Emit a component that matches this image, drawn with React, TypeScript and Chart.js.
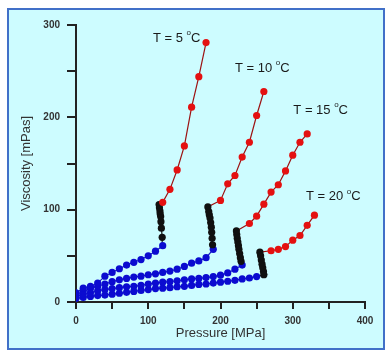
import React, { useEffect, useRef } from 'react';
import { Chart, registerables } from 'chart.js';

Chart.register(...registerables);

// Pressure [MPa], viscosity [mPas] pairs
// liquid (blue), transition (black), high-pressure phase (red)
const t5Liquid: number[][] = [[0, 10], [10, 15], [20, 17], [30, 20.5], [40, 28], [50, 32], [60, 36], [70, 40], [80, 43], [90, 46], [100, 50], [110, 55], [120, 61]];
const t5Transition: number[][] = [[119.3, 70], [118.2, 80], [117.6, 87], [117.2, 92.5], [116.5, 95.5], [116.2, 98.5], [115.5, 102], [115, 105.5]];
const t5Solid: number[][] = [[120, 108], [130, 122], [140, 143], [150, 169], [160, 211], [170, 244], [180, 281]];

const t10Liquid: number[][] = [[0, 8], [10, 11.5], [20, 14.5], [30, 17], [40, 19.5], [50, 22], [60, 24], [70, 25.5], [80, 27], [90, 28], [100, 29.5], [110, 30.5], [120, 32], [130, 33.5], [140, 35.5], [150, 38.5], [160, 42], [170, 44.5], [180, 48], [190, 57]];
const t10Transition: number[][] = [[189, 62], [188.4, 69], [187.8, 75.5], [187.3, 81], [186.4, 86], [185.5, 91], [184.5, 94.5], [183.7, 98], [182.5, 103]];
const t10Solid: number[][] = [[200, 110], [210, 128], [220, 137], [230, 157], [240, 173], [250, 202], [260, 228]];

const t15Liquid: number[][] = [[0, 6], [10, 8], [20, 10], [30, 12], [40, 13.5], [50, 14.5], [60, 15.5], [70, 16.5], [80, 17], [90, 18], [100, 19.5], [110, 20.5], [120, 21.5], [130, 22], [140, 23], [150, 24], [160, 25], [170, 25.5], [180, 26.5], [190, 27.5], [200, 29], [210, 31.5], [220, 35.5], [230, 40]];
const t15Transition: number[][] = [[228.5, 44], [227.5, 48], [226.5, 52.5], [225.5, 57], [224.8, 61], [224, 65], [223.2, 69], [222.5, 73], [222, 77]];
const t15Solid: number[][] = [[240, 85], [250, 93], [260, 106], [270, 119], [280, 127], [290, 142], [300, 159], [310, 173], [320, 182]];

const t20Liquid: number[][] = [[0, 4], [10, 5], [20, 6], [30, 7], [40, 7.5], [50, 8.5], [60, 9.5], [70, 10.5], [80, 11.5], [90, 12.5], [100, 13.5], [110, 14.5], [120, 15], [130, 15.5], [140, 16.5], [150, 17], [160, 18], [170, 19], [180, 19.5], [190, 20.5], [200, 21.5], [210, 22.5], [220, 23.5], [230, 25], [240, 26], [250, 27.5]];
const t20Transition: number[][] = [[260, 29.5], [259.5, 33], [258.5, 37], [257.5, 41], [256.5, 45.5], [255.5, 50], [254.5, 54]];
const t20Solid: number[][] = [[270, 55.5], [280, 57], [290, 60], [300, 67], [310, 72], [320, 83], [330, 94]];

const temperatures = [5, 10, 15, 20];
const seriesPhases = [
  [t5Liquid, t5Transition, t5Solid],
  [t10Liquid, t10Transition, t10Solid],
  [t15Liquid, t15Transition, t15Solid],
  [t20Liquid, t20Transition, t20Solid],
];
// label anchor (left edge, vertical middle) in data units
const labelAnchors = [[106.6, 286], [220, 253.5], [300.8, 208], [318.3, 114.4]];

const xTickValues = [0, 100, 200, 300, 400];
const yTickValues = [0, 100, 200, 300];

const pointColors = ['#0b0bd0', '#101010', '#e41010'];
const lineColors = ['#1c1cc0', '#1a1a1a', '#9c1212'];

const FONT = '"Liberation Sans", Arial, sans-serif';

const backgroundPlugin = {
  id: 'panelBg',
  beforeDraw(chart: any) {
    const { ctx, width, height } = chart;
    ctx.save();
    ctx.fillStyle = '#ffffff';
    ctx.fillRect(0, 0, width, height);
    ctx.fillStyle = '#cdfcff';
    ctx.fillRect(8, 9, 376, 340);
    ctx.strokeStyle = '#4170c8';
    ctx.lineWidth = 2;
    ctx.strokeRect(8, 9, 376, 340);
    ctx.restore();
  },
};

const labelPlugin = {
  id: 'tempLabels',
  afterDatasetsDraw(chart: any) {
    const { ctx, scales } = chart;
    ctx.save();
    ctx.fillStyle = '#1a1a1a';
    ctx.textBaseline = 'middle';
    ctx.textAlign = 'left';
    temperatures.forEach((t, i) => {
      const px = scales.x.getPixelForValue(labelAnchors[i][0]);
      const py = scales.y.getPixelForValue(labelAnchors[i][1]);
      ctx.font = `13px ${FONT}`;
      const main = `T = ${t} `;
      ctx.fillText(main, px, py);
      const w = ctx.measureText(main).width;
      ctx.font = `8px ${FONT}`;
      ctx.fillText('o', px + w, py - 5);
      const ow = ctx.measureText('o').width;
      ctx.font = `13px ${FONT}`;
      ctx.fillText('C', px + w + ow, py);
    });
    ctx.restore();
  },
};

export default function App() {
  const canvasRef = useRef<HTMLCanvasElement | null>(null);

  useEffect(() => {
    if (!canvasRef.current) return;
    const datasets = seriesPhases.map((phases, i) => {
      const data: { x: number; y: number }[] = [];
      const phaseIdx: number[] = [];
      phases.forEach((pts, p) => {
        pts.forEach(([x, y]) => {
          data.push({ x, y });
          phaseIdx.push(p);
        });
      });
      return {
        label: `T = ${temperatures[i]} °C`,
        data,
        showLine: true,
        borderWidth: 1.2,
        pointRadius: 3.6,
        pointBorderWidth: 0,
        pointBackgroundColor: phaseIdx.map((p) => pointColors[p]),
        pointBorderColor: phaseIdx.map((p) => pointColors[p]),
        segment: {
          borderColor: (c: any) => lineColors[phaseIdx[c.p1DataIndex]],
        },
        borderColor: lineColors[0],
        tension: 0,
      };
    });

    const chart = new Chart(canvasRef.current, {
      type: 'scatter',
      data: { datasets },
      options: {
        animation: false,
        responsive: false,
        devicePixelRatio: 1,
        layout: { padding: { left: 0, right: 20, top: 25, bottom: 0 } },
        plugins: { legend: { display: false }, tooltip: { enabled: false } },
        scales: {
          x: {
            type: 'linear',
            min: 0,
            max: 400,
            afterFit: (s: any) => {
              s.height = 49;
            },
            ticks: {
              stepSize: 50,
              autoSkip: false,
              maxRotation: 0,
              padding: 6,
              color: '#333333',
              font: { family: FONT, size: 10, weight: 'bold' },
              callback: (v: any) => (xTickValues.includes(Number(v)) ? String(v) : ''),
            },
            grid: { drawOnChartArea: false, drawTicks: true, tickLength: 7, color: '#222222', lineWidth: 2 },
            border: { display: true, color: '#222222', width: 2 },
            title: {
              display: true,
              text: 'Pressure [MPa]',
              color: '#333333',
              font: { family: FONT, size: 13 },
              padding: { top: 0, bottom: 10 },
            },
          },
          y: {
            type: 'linear',
            min: 0,
            max: 300,
            afterFit: (s: any) => {
              s.width = 76;
            },
            ticks: {
              stepSize: 50,
              autoSkip: false,
              padding: 7,
              color: '#333333',
              font: { family: FONT, size: 10, weight: 'bold' },
              callback: (v: any) => (yTickValues.includes(Number(v)) ? String(v) : ''),
            },
            grid: { drawOnChartArea: false, drawTicks: true, tickLength: 9, color: '#222222', lineWidth: 2 },
            border: { display: true, color: '#222222', width: 2 },
            title: {
              display: true,
              text: 'Viscosity [mPas]',
              color: '#333333',
              font: { family: FONT, size: 13 },
              padding: { top: 19, bottom: 0 },
            },
          },
        },
      },
      plugins: [backgroundPlugin, labelPlugin],
    } as any);
    return () => chart.destroy();
  }, []);

  return (
    <div style={{ position: 'absolute', left: 0, top: 0, width: 385, height: 351 }}>
      <canvas ref={canvasRef} width={385} height={351} style={{ display: 'block', width: 385, height: 351 }} />
    </div>
  );
}
